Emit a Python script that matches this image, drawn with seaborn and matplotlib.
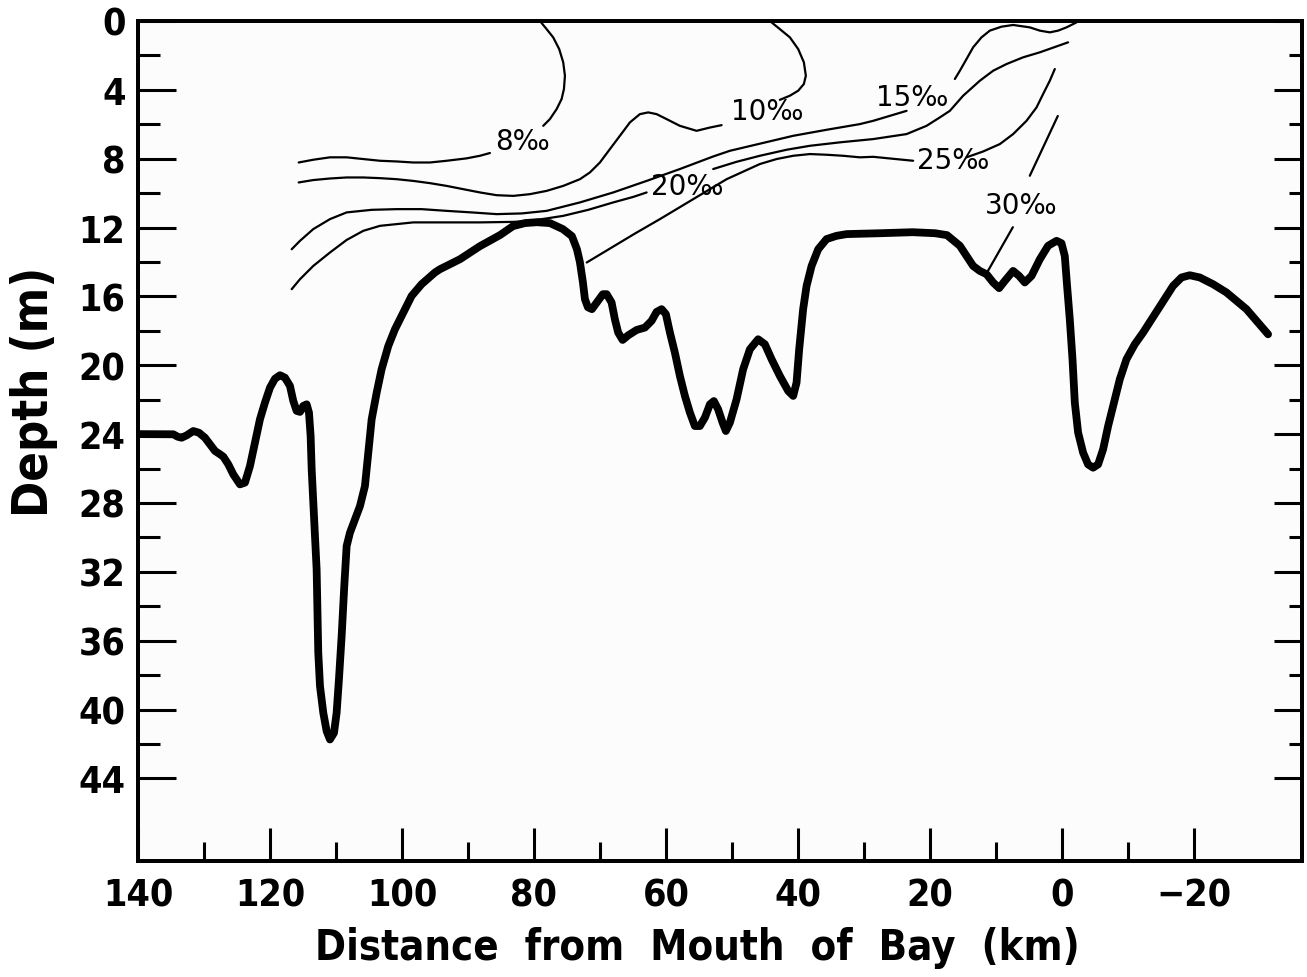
import matplotlib
matplotlib.use("Agg")
import matplotlib.pyplot as plt
import seaborn as sns
import pandas as pd

# ---------------------------------------------------------------
# Bottom profile along the bay axis (distance in km, depth in m)
# ---------------------------------------------------------------
bathy_km = [140.0, 134.65, 133.99, 133.39, 132.62, 131.62, 130.76, 129.85, 129.09, 128.33,
            127.58, 127.07, 126.31, 125.56, 124.55, 123.79, 123.03, 122.27, 121.52, 120.76,
            120.0, 119.24, 118.48, 117.73, 116.97, 116.47, 115.96, 115.45, 114.95, 114.44,
            114.09, 113.84, 113.68, 113.43, 113.18, 112.93, 112.78, 112.68, 112.42, 111.92,
            111.41, 110.91, 110.30, 109.90, 109.55, 109.14, 108.74, 108.38, 107.88, 107.12,
            106.36, 105.61, 105.10, 104.59, 103.83, 103.08, 102.07, 101.06, 100.05, 98.53,
            97.02, 95.0, 94.24, 91.21, 88.18, 85.15, 83.18, 81.36, 79.55, 77.58,
            75.61, 74.24, 73.48, 73.03, 72.58, 72.27, 71.82, 71.21, 70.45, 69.55,
            68.98, 68.23, 67.73, 67.23, 66.56, 65.71, 64.44, 63.18, 62.17, 61.41,
            60.65, 60.0, 59.39, 58.64, 57.88, 57.12, 56.36, 55.61, 54.85, 54.09,
            53.33, 52.73, 52.08, 51.41, 50.91, 50.30, 49.29, 48.29, 47.27, 46.02,
            45.0, 43.98, 42.73, 41.47, 40.71, 40.20, 39.80, 39.20, 38.68, 37.92,
            36.92, 35.65, 34.14, 32.6, 27.6, 22.6, 19.2, 17.4, 15.45, 14.44,
            13.44, 12.42, 11.41, 10.41, 9.50, 8.64, 7.38, 6.47, 5.61, 4.59,
            3.33, 2.08, 0.80, 0.05, -0.45, -0.80, -1.21, -1.62, -1.97, -2.47,
            -3.23, -3.98, -4.74, -5.50, -6.26, -7.02, -7.77, -8.79, -9.80, -11.06,
            -12.32, -14.59, -16.86, -18.14, -19.39, -20.91, -22.92, -24.95, -27.98, -31.26]
bathy_depth = [24.0, 24.01, 24.15, 24.21, 24.07, 23.82, 23.92, 24.21, 24.59, 24.98,
               25.17, 25.31, 25.76, 26.34, 26.92, 26.82, 25.85, 24.50, 23.14, 22.17,
               21.30, 20.78, 20.58, 20.72, 21.20, 22.07, 22.65, 22.71, 22.36, 22.27,
               22.75, 24.11, 26.05, 27.98, 29.92, 31.86, 34.77, 36.70, 38.64, 40.19,
               41.26, 41.74, 41.36, 40.19, 38.26, 35.74, 32.83, 30.50, 29.73, 28.95,
               28.18, 27.02, 25.08, 23.14, 21.59, 20.23, 18.88, 17.91, 17.13, 15.97,
               15.29, 14.61, 14.42, 13.84, 13.08, 12.44, 11.92, 11.74, 11.69, 11.74,
               12.09, 12.50, 13.26, 14.01, 15.17, 16.16, 16.63, 16.74, 16.34, 15.87,
               15.87, 16.35, 17.33, 18.10, 18.53, 18.26, 17.95, 17.81, 17.42, 16.90,
               16.74, 17.03, 18.10, 19.26, 20.62, 21.78, 22.75, 23.53, 23.53, 23.04,
               22.27, 22.08, 22.56, 23.33, 23.82, 23.33, 21.98, 20.23, 19.07, 18.49,
               18.78, 19.65, 20.62, 21.49, 21.78, 21.01, 19.07, 16.74, 15.39, 14.23,
               13.26, 12.67, 12.48, 12.38, 12.33, 12.27, 12.33, 12.44, 13.06, 13.65,
               14.23, 14.52, 14.71, 15.19, 15.52, 15.10, 14.52, 14.81, 15.19, 14.81,
               13.84, 13.06, 12.77, 12.91, 13.65, 15.39, 17.33, 19.65, 22.17, 23.91,
               25.08, 25.76, 25.95, 25.76, 24.88, 23.53, 22.37, 20.81, 19.65, 18.78,
               18.10, 16.74, 15.39, 14.90, 14.77, 14.90, 15.29, 15.77, 16.74, 18.20]

# ---------------------------------------------------------------
# Isohalines (salinity in per mille), drawn in pieces around labels
# ---------------------------------------------------------------
s8_top_km = [79.09, 78.08, 77.08, 76.17, 75.56, 75.30, 75.45, 75.80, 76.56, 77.58, 78.59]
s8_top_depth = [0.0, 0.47, 0.95, 1.63, 2.40, 3.18, 3.95, 4.53, 5.12, 5.70, 6.09]
s8_low_km = [86.67, 88.18, 90.20, 93.23, 95.76, 98.29, 100.80, 103.33, 105.86, 108.38,
             110.91, 113.44, 115.65]
s8_low_depth = [7.67, 7.83, 7.98, 8.12, 8.22, 8.22, 8.16, 8.12, 8.02, 7.92,
                7.92, 8.06, 8.22]

s10_top_km = [44.24, 42.73, 41.21, 39.95, 39.09, 38.79, 39.09, 39.95, 41.21, 42.73]
s10_top_depth = [0.0, 0.47, 0.95, 1.63, 2.40, 3.18, 3.66, 4.05, 4.34, 4.58]
s10_low_km = [51.56, 53.33, 55.35, 57.88, 59.89, 61.41, 62.68, 63.94, 65.45, 66.97,
              68.48, 70.0, 71.52, 73.03, 75.56, 78.08, 80.61, 83.14, 85.65, 88.18,
              90.71, 93.23, 95.76, 98.29, 100.80, 103.33, 105.86, 108.38, 110.91, 113.44,
              115.65]
s10_low_depth = [6.05, 6.19, 6.38, 6.09, 5.70, 5.41, 5.31, 5.41, 5.89, 6.67,
                 7.44, 8.22, 8.80, 9.19, 9.58, 9.87, 10.06, 10.16, 10.12, 9.96,
                 9.77, 9.58, 9.42, 9.29, 9.19, 9.13, 9.09, 9.09, 9.15, 9.24,
                 9.38]

s15_low_km = [116.71, 115.45, 113.44, 110.91, 108.38, 104.59, 100.80, 97.02, 93.23, 89.44,
              85.65, 81.86, 78.08, 73.03, 67.98, 62.92, 57.88, 52.83, 50.30, 40.71,
              35.65, 30.61, 28.59, 26.06, 23.53]
s15_low_depth = [13.26, 12.77, 12.09, 11.51, 11.12, 10.97, 10.93, 10.93, 11.03, 11.12,
                 11.22, 11.18, 11.03, 10.54, 9.96, 9.29, 8.60, 7.87, 7.54, 6.67,
                 6.32, 5.99, 5.80, 5.51, 5.22]
s15_top_km = [16.21, 15.45, 14.44, 13.44, 12.17, 10.91, 9.14, 7.38, 4.85, 3.33,
              1.82, 0.56, -0.71, -2.23]
s15_top_depth = [3.37, 2.89, 2.21, 1.53, 0.95, 0.56, 0.33, 0.23, 0.37, 0.56,
                 0.66, 0.56, 0.37, 0.08]

s20_left_km = [116.71, 115.45, 113.44, 110.91, 108.38, 105.86, 103.33, 98.29, 93.23, 88.18,
               83.14, 80.61, 78.08, 75.56, 71.77, 67.98, 64.95, 62.92]
s20_left_depth = [15.58, 15.0, 14.23, 13.45, 12.72, 12.19, 11.90, 11.70, 11.70, 11.70,
                  11.67, 11.61, 11.47, 11.32, 10.97, 10.54, 10.22, 9.96]
s20_right_km = [52.83, 49.29, 45.76, 41.71, 38.18, 33.64, 28.59, 23.53, 20.50, 18.48,
                16.97, 14.95, 12.42, 10.41, 8.38, 5.86, 3.33, -0.95]
s20_right_depth = [8.60, 8.18, 7.83, 7.48, 7.25, 7.05, 6.86, 6.57, 6.09, 5.60,
                   5.22, 4.34, 3.47, 2.89, 2.50, 2.11, 1.82, 1.24]

s25_left_km = [72.0, 68.48, 64.70, 60.91, 55.86, 50.80, 45.76, 43.23, 40.71, 38.18,
               35.65, 33.14, 30.61, 28.59, 22.53]
s25_left_depth = [14.03, 13.22, 12.35, 11.51, 10.35, 9.19, 8.31, 8.02, 7.83, 7.73,
                  7.77, 7.83, 7.92, 7.89, 8.12]
s25_right_km = [14.44, 11.92, 9.39, 7.38, 5.35, 3.83, 2.83, 1.82, 1.06]
s25_right_depth = [7.92, 7.58, 7.15, 6.57, 5.80, 5.02, 4.24, 3.47, 2.79]

s30_top_km = [0.61, 4.85]
s30_top_depth = [5.52, 8.99]
s30_low_km = [7.42, 11.21]
s30_low_depth = [11.98, 14.53]

# Contour labels and their anchor points
label_text = ["8‰", "10‰", "15‰", "20‰", "25‰", "30‰"]
label_km = [81.7, 44.7, 22.7, 56.7, 16.5, 6.2]
label_depth = [7.0, 5.2, 4.4, 9.6, 8.1, 10.7]

# Axis ticks
x_major = [140, 120, 100, 80, 60, 40, 20, 0, -20]
x_minor = [130, 110, 90, 70, 50, 30, 10, -10]
y_major = [0, 4, 8, 12, 16, 20, 24, 28, 32, 36, 40, 44]
y_minor = [2, 6, 10, 14, 18, 22, 26, 30, 34, 38, 42]

# ---------------------------------------------------------------
sns.set_theme(style="ticks")
plt.rcParams["font.family"] = ["DejaVu Sans"]
plt.rcParams["lines.solid_joinstyle"] = "round"
plt.rcParams["lines.solid_capstyle"] = "round"
plt.rcParams["text.color"] = "black"
plt.rcParams["axes.labelcolor"] = "black"
plt.rcParams["xtick.color"] = "black"
plt.rcParams["ytick.color"] = "black"

fig = plt.figure(figsize=(13.07, 9.78), dpi=100)
fig.patch.set_facecolor("white")
ax = fig.add_axes([138 / 1307, 1 - 862 / 978, 1164 / 1307, 840 / 978])
ax.set_facecolor("#fcfcfc")

bathy = pd.DataFrame({"km": bathy_km, "depth": bathy_depth})
sns.lineplot(data=bathy, x="km", y="depth", sort=False, estimator=None,
             color="black", lw=5.6, ax=ax)

segments = [
    (s8_top_km, s8_top_depth), (s8_low_km, s8_low_depth),
    (s10_top_km, s10_top_depth), (s10_low_km, s10_low_depth),
    (s15_low_km, s15_low_depth), (s15_top_km, s15_top_depth),
    (s20_left_km, s20_left_depth), (s20_right_km, s20_right_depth),
    (s25_left_km, s25_left_depth), (s25_right_km, s25_right_depth),
    (s30_top_km, s30_top_depth), (s30_low_km, s30_low_depth),
]
for seg_km, seg_depth in segments:
    sns.lineplot(x=seg_km, y=seg_depth, sort=False, estimator=None,
                 color="black", lw=1.6, ax=ax)

for txt, kx, dy in zip(label_text, label_km, label_depth):
    ax.text(kx, dy, txt, ha="center", va="center", fontsize=20,
            color="black", family="DejaVu Sans")

ax.set_xlim(140, -36.4)
ax.set_ylim(48.8, 0)

tick_font = dict(family="DejaVu Sans", weight="bold", size=27, stretch="condensed")

ax.set_xticks(x_major)
ax.set_xticks(x_minor, minor=True)
ax.set_xticklabels([str(v) if v >= 0 else "\u2212" + str(-v) for v in x_major], **tick_font)
ax.set_yticks(y_major)
ax.set_yticks(y_minor, minor=True)
ax.set_yticklabels([str(v) for v in y_major], **tick_font)

ax.tick_params(axis="x", which="major", direction="in", length=24, width=2.2, pad=12, top=False)
ax.tick_params(axis="x", which="minor", direction="in", length=13.5, width=2.2, top=False)
ax.tick_params(axis="y", which="major", direction="in", length=27, width=2.2, pad=9, right=False)
ax.tick_params(axis="y", which="minor", direction="in", length=16, width=2.2, right=False)

# right-hand depth scale with shorter ticks
ax_r = ax.twinx()
ax_r.set_ylim(48.8, 0)
ax_r.set_yticks(y_major)
ax_r.set_yticks(y_minor, minor=True)
ax_r.tick_params(axis="y", which="major", direction="in", length=20, width=2.2, labelright=False)
ax_r.tick_params(axis="y", which="minor", direction="in", length=9.5, width=2.2, labelright=False)

for a in (ax, ax_r):
    for sp in a.spines.values():
        sp.set_visible(True)
        sp.set_linewidth(2.8)
        sp.set_color("black")

ax.set_xlabel("Distance  from  Mouth  of  Bay  (km)", family="DejaVu Sans",
              weight="bold", size=30, stretch="condensed", color="black")
ax.set_ylabel("Depth (m)", family="DejaVu Sans", weight="bold", size=35,
              stretch="condensed", color="black")
ax.xaxis.set_label_coords((697 - 138) / 1164, -(948 - 862) / 840)
ax.xaxis.label.set_verticalalignment("center")
ax.yaxis.set_label_coords(-(138 - 34) / 1164, 1 - (392 - 22) / 840)
ax.yaxis.label.set_verticalalignment("center")

fig.savefig("out.png", dpi=100)
